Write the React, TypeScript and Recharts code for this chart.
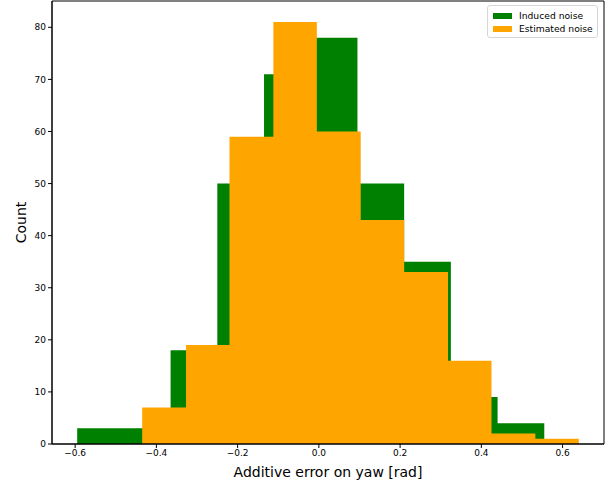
import React from "react";
import {
  ComposedChart,
  Area,
  XAxis,
  YAxis,
  ReferenceArea,
} from "recharts";

// histogram bin edges + counts
const inducedEdges = [-0.595, -0.48, -0.365, -0.25, -0.135, -0.02, 0.095, 0.21, 0.325, 0.44, 0.555];
const inducedCounts = [3, 3, 18, 50, 71, 78, 50, 35, 9, 4];

const estimatedEdges = [-0.435, -0.327, -0.22, -0.112, -0.005, 0.103, 0.21, 0.318, 0.425, 0.533, 0.64];
const estimatedCounts = [7, 19, 59, 81, 60, 43, 33, 16, 2, 1];

const seriesNames = ["Induced noise", "Estimated noise"];
const seriesColors = ["#008000", "#FFA500"];

const xTicks = [-0.6, -0.4, -0.2, 0.0, 0.2, 0.4, 0.6];
const yTicks = [0, 10, 20, 30, 40, 50, 60, 70, 80];

const xDomain: [number, number] = [-0.657, 0.702];
const yDomain: [number, number] = [0, 85.05];

const FONT = "DejaVu Sans, sans-serif";

// step points: each edge carries the count of the bin that starts there
function toSteps(edges: number[], counts: number[]) {
  return edges.map((e, i) => ({
    x: e,
    count: counts[Math.min(i, counts.length - 1)],
  }));
}

const inducedSteps = toSteps(inducedEdges, inducedCounts);
const estimatedSteps = toSteps(estimatedEdges, estimatedCounts);

const fmt = (v: number) => (v < 0 ? "\u2212" + Math.abs(v).toFixed(1) : v.toFixed(1));

function LegendBox() {
  return (
    <div
      style={{
        position: "absolute",
        top: 5,
        left: 487,
        width: 111,
        boxSizing: "border-box",
        border: "1px solid #d6d6d6",
        borderRadius: 3,
        background: "rgba(255,255,255,0.8)",
        padding: "3px 0 2px 5px",
        fontFamily: FONT,
        fontSize: 9.2,
        color: "#000",
      }}
    >
      {seriesNames.map((n, i) => (
        <div key={n} style={{ display: "flex", alignItems: "center", height: 13 }}>
          <span
            style={{ display: "inline-block", width: 19, height: 6, background: seriesColors[i], marginRight: 7 }}
          />
          <span>{n}</span>
        </div>
      ))}
    </div>
  );
}

export default function App() {
  if (typeof document !== "undefined") document.body.style.margin = "0";
  const tick = { fontSize: 9, fill: "#000", fontFamily: FONT };
  return (
    <div style={{ width: 611, height: 482, background: "#fff", position: "relative" }}>
      <ComposedChart width={611} height={482} margin={{ top: 1, right: 7, bottom: 0, left: 0 }}>
        <XAxis
          dataKey="x"
          type="number"
          domain={xDomain}
          allowDataOverflow
          ticks={xTicks}
          tickFormatter={fmt}
          tick={tick}
          tickSize={4}
          tickLine={{ stroke: "#000" }}
          axisLine={{ stroke: "#000" }}
          height={38}
          label={{
            value: "Additive error on yaw [rad]",
            position: "insideBottom",
            offset: 5,
            style: { fontSize: 14, fill: "#000", fontFamily: FONT },
          }}
        />
        <YAxis
          type="number"
          domain={yDomain}
          allowDataOverflow
          ticks={yTicks}
          tick={tick}
          tickSize={4}
          tickLine={{ stroke: "#000" }}
          axisLine={{ stroke: "#000" }}
          width={52}
          label={{
            value: "Count",
            angle: -90,
            position: "insideLeft",
            offset: 21,
            style: { fontSize: 14, fill: "#000", fontFamily: FONT, textAnchor: "middle" },
          }}
        />
        <Area
          data={inducedSteps}
          dataKey="count"
          name={seriesNames[0]}
          type="stepAfter"
          stroke="none"
          fill={seriesColors[0]}
          fillOpacity={1}
          baseValue={0}
          dot={false}
          activeDot={false}
          isAnimationActive={false}
        />
        <Area
          data={estimatedSteps}
          dataKey="count"
          name={seriesNames[1]}
          type="stepAfter"
          stroke="none"
          fill={seriesColors[1]}
          fillOpacity={1}
          baseValue={0}
          dot={false}
          activeDot={false}
          isAnimationActive={false}
        />
        {/* frame around the plot area (matplotlib spines) */}
        <ReferenceArea
          x1={xDomain[0]}
          x2={xDomain[1]}
          y1={yDomain[0]}
          y2={yDomain[1]}
          fill="none"
          stroke="#000"
          strokeWidth={1}
          ifOverflow="visible"
        />
      </ComposedChart>
      <LegendBox />
    </div>
  );
}
